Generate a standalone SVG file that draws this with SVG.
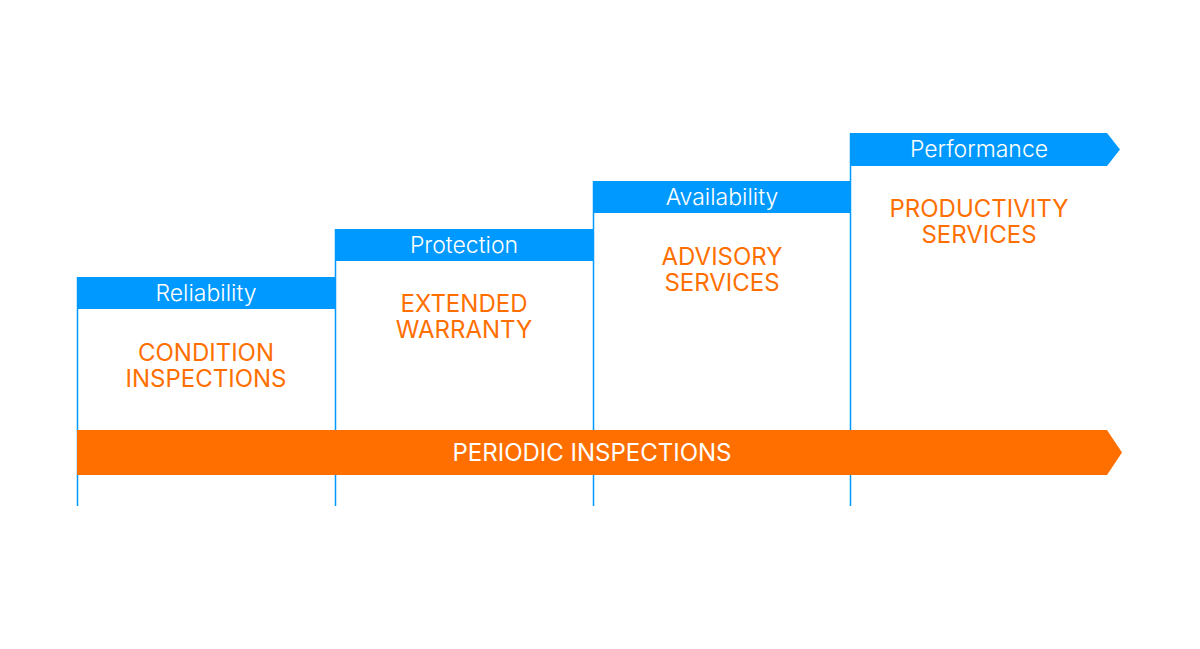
<svg xmlns="http://www.w3.org/2000/svg" width="1200" height="649" viewBox="0 0 1200 649">
<style>
.hdr{fill:#0099FF}
.vl{stroke:#0099FF;stroke-width:1.5;fill:none}
.ht{font-family:Inter,Roboto,"Liberation Sans",sans-serif;font-weight:300;font-size:23px;fill:#FFFFFF;text-anchor:middle}
.st{font-family:Inter,Roboto,"Liberation Sans",sans-serif;font-weight:400;font-size:24px;fill:#FF6F00;text-anchor:middle}
.pt{font-family:Inter,Roboto,"Liberation Sans",sans-serif;font-weight:400;font-size:24px;fill:#FFFFFF;text-anchor:middle}
</style>
<rect width="1200" height="649" fill="#FFFFFF"/>
<g id="connectors">
<line class="vl" x1="77.5" y1="277" x2="77.5" y2="506"/>
<line class="vl" x1="335.5" y1="229" x2="335.5" y2="506"/>
<line class="vl" x1="593.5" y1="181" x2="593.5" y2="506"/>
<line class="vl" x1="850.5" y1="133" x2="850.5" y2="506"/>
</g>
<g id="reliability">
<rect class="hdr" x="77" y="277" width="258" height="32"/>
<text class="ht" x="206" y="301">Reliability</text>
<text class="st" x="206" y="361">CONDITION</text>
<text class="st" x="206" y="387">INSPECTIONS</text>
</g>
<g id="protection">
<rect class="hdr" x="335" y="229" width="258" height="32"/>
<text class="ht" x="464" y="253">Protection</text>
<text class="st" x="464" y="312">EXTENDED</text>
<text class="st" x="464" y="338">WARRANTY</text>
</g>
<g id="availability">
<rect class="hdr" x="593" y="181" width="257" height="32"/>
<text class="ht" x="722" y="205">Availability</text>
<text class="st" x="722" y="265">ADVISORY</text>
<text class="st" x="722" y="291">SERVICES</text>
</g>
<g id="performance">
<polygon class="hdr" points="850,133 1107,133 1120,149.5 1107,166 850,166"/>
<text class="ht" x="979" y="157">Performance</text>
<text class="st" x="979" y="217">PRODUCTIVITY</text>
<text class="st" x="979" y="243">SERVICES</text>
</g>
<g id="periodic">
<polygon points="77,430 1107,430 1122,452.5 1107,475 77,475" fill="#FF6F00"/>
<text class="pt" x="592" y="461">PERIODIC INSPECTIONS</text>
</g>
</svg>
